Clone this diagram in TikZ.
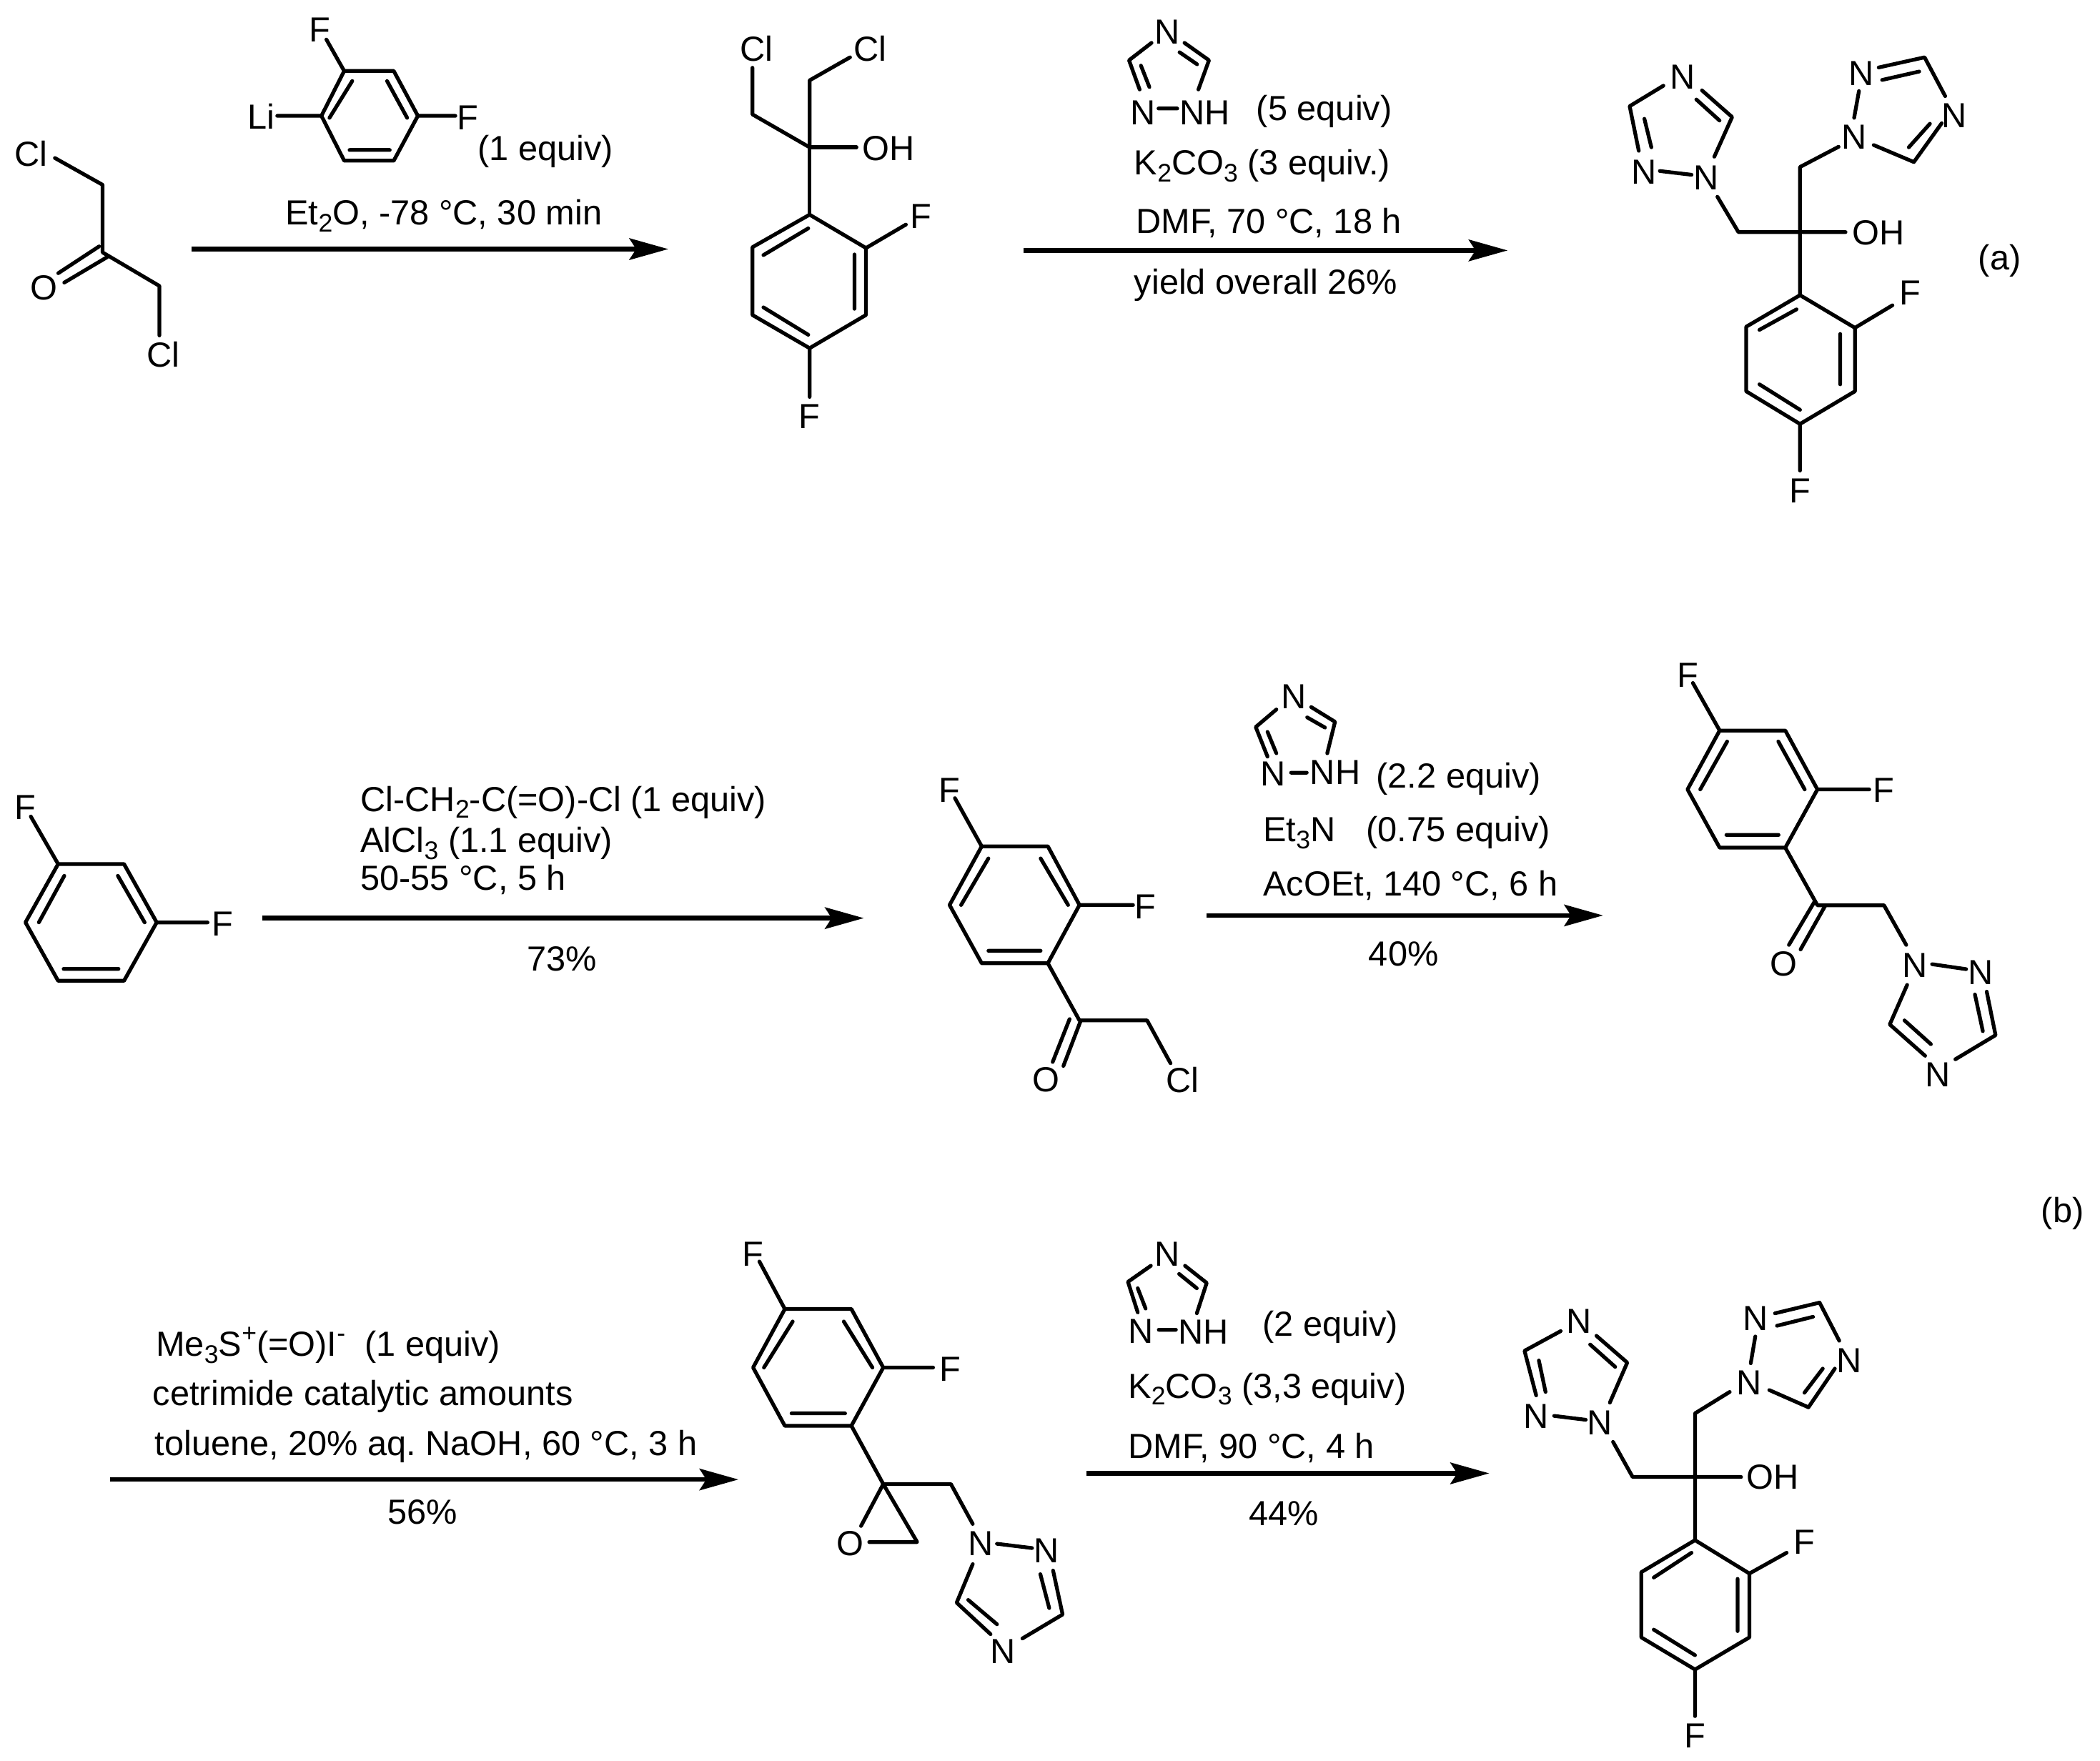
\documentclass[tikz,border=0pt]{standalone}
\usepackage{fontspec}
\setmainfont{Liberation Sans}
\usetikzlibrary{arrows.meta}
\frenchspacing
\newcommand{\sbb}[1]{\raisebox{-0.2em}{\fontsize{19}{19}\selectfont #1}}
\newcommand{\spp}[1]{\raisebox{0.42em}{\fontsize{19}{19}\selectfont #1}}
\tikzset{
  bond/.style={line width=2.8pt,line cap=round,line join=round,black},
  rxn/.style={line width=3.4pt,black,-{Stealth[length=29pt,width=16pt,inset=5pt]}},
  atom/.style={inner sep=0pt,anchor=center,font=\fontsize{26}{30}\selectfont},
  cond/.style={inner sep=0pt,anchor=base west,font=\fontsize{26}{30}\selectfont},
}
\begin{document}
\begin{tikzpicture}[x=1pt,y=-1pt]
\useasboundingbox (0,0) rectangle (1568,1315);
\fill[white] (0,0) rectangle (1568,1315);

% ---------- Row 1: dichloroacetone
\node[atom] (a1) at (23,115) {Cl};
\node[atom] (a2) at (33,215) {O};
\node[atom] (a3) at (122,265) {Cl};
\draw[bond] (41,118)--(76.6,138)--(76.6,188.5)--(119,213.5)--(119,250.5);
\draw[bond] (74,184)--(43.5,204) (80,192)--(48,211);

% aryl lithium
\node[atom] (b1) at (239,22.5) {F};
\node[atom] (b2) at (195,87) {Li};
\node[atom] (b3) at (349,88) {F};
\draw[bond] (257,53)--(294,53)--(312,86.5)--(294,120)--(257,120)--(240,86.5)--cycle;
\draw[bond] (263,60.5)--(246,88) (289,60.5)--(304,88) (261,112)--(291,112);
\draw[bond] (257,53)--(243.7,29.5) (240,86.5)--(207,86.5) (312,86.5)--(340,86.5);
\node[cond] (b4) at (356.7,120) {(1 equiv)};
\node[cond] (b5) at (213,168) {Et\sbb{2}O, -78 °C, 30 min};
\coordinate (r1s) at (143,186); \coordinate (r1e) at (499,186);
\draw[rxn] (r1s)--(r1e);

% dichloro alcohol
\node[atom] (c1) at (564.8,36.3) {Cl};
\node[atom] (c2) at (649.7,36.3) {Cl};
\node[atom] (c3) at (663.5,111) {OH};
\node[atom] (c4) at (687.6,161.4) {F};
\node[atom] (c5) at (604.5,311) {F};
\draw[bond] (561.8,50.6)--(561.8,85.4)--(604.5,110)--(604.5,60)--(634.7,42.8);
\draw[bond] (604.5,110)--(639.5,110) (604.5,110)--(604.5,160.3);
\draw[bond] (604.5,160.3)--(646.6,185.2)--(646.6,235.2)--(604.5,260)--(561.8,235.2)--(561.8,184.6)--cycle;
\draw[bond] (603.5,170.5)--(570,190.5) (638,190)--(638,230.6) (570,229.5)--(603.5,250);
\draw[bond] (646.6,185.2)--(676.4,167.7) (604.5,260)--(604.5,296.4);

% triazole reagent 1
\node[atom] (d1) at (871.8,24) {N};
\node[atom] (d2) at (853.5,84) {N};
\node[atom] (d3) at (899.5,84) {NH};
\draw[bond] (859.8,32)--(843,45)--(850.9,66.8) (884.4,32)--(902.7,45)--(894.8,66.8);
\draw[bond] (880.7,39)--(893.8,48) (851.9,49)--(858.2,65) (865,81)--(879,81);
\node[cond] (d4) at (938,90) {(5 equiv)};
\node[cond] (d5) at (846.7,130.5) {K\sbb{2}CO\sbb{3} (3 equiv.)};
\node[cond] (d6) at (848,174.5) {DMF, 70 °C, 18 h};
\node[cond] (d7) at (846.7,219.6) {yield overall 26\%};
\coordinate (r2s) at (764.5,187); \coordinate (r2e) at (1125.7,187);
\draw[rxn] (r2s)--(r2e);

% product a
\node[atom] (e1) at (1256.6,57.4) {N};
\node[atom] (e2) at (1227.3,128.5) {N};
\node[atom] (e3) at (1274,132.7) {N};
\node[atom] (e4) at (1384.4,102.5) {N};
\node[atom] (e5) at (1390,55) {N};
\node[atom] (e6) at (1459,86.4) {N};
\node[atom] (e7) at (1402.5,174) {OH};
\node[atom] (e8) at (1426,218.6) {F};
\node[atom] (e9) at (1344,366.5) {F};
\node[cond] (e10) at (1477,201.5) {(a)};
\draw[bond] (1242,64)--(1216.8,79.3)--(1223.6,112.6) (1270.8,67.5)--(1293.3,87.4)--(1280,117);
\draw[bond] (1266.6,74.3)--(1283.9,90) (1227.8,88.7)--(1233,110) (1239.3,127.7)--(1263,130.5);
\draw[bond] (1282.3,146.9)--(1298,173.3)--(1378,173.3) (1372.8,109.6)--(1344,124.7)--(1344,220.4);
\draw[bond] (1388,68)--(1384.4,88) (1402.7,50.4)--(1437,42.8)--(1452.4,71.8);
\draw[bond] (1405.3,59.7)--(1433,53.4) (1449.8,92)--(1429,121)--(1399,108.3) (1441,92.4)--(1425.2,110);
\draw[bond] (1344,220.4)--(1385,244.8)--(1385,292.2)--(1344,316.6)--(1303.8,292.2)--(1303.8,244)--cycle;
\draw[bond] (1341.4,231)--(1313.7,246.3) (1374,249.4)--(1374,287) (1313.7,287)--(1344,306);
\draw[bond] (1385,244.8)--(1413,228) (1344,316.6)--(1344,351.4);

% ---------- Row 2: difluorobenzene
\node[atom] (f1) at (19,603) {F};
\node[atom] (f2) at (166,690) {F};
\draw[bond] (43.4,645.2)--(92.6,645.2)--(117,688.8)--(92.6,732.4)--(43.4,732.4)--(19,688.8)--cycle;
\draw[bond] (48,654)--(29,688.8) (88,654)--(108,688.8) (47.5,723.5)--(88.5,723.5);
\draw[bond] (23,609.7)--(43.4,645.2) (117,688.8)--(155,688.8);
\node[cond] (f3) at (269,605.8) {Cl-CH\sbb{2}-C(=O)-Cl (1 equiv)};
\node[cond] (f4) at (269,636.3) {AlCl\sbb{3} (1.1 equiv)};
\node[cond] (f5) at (269,664.9) {50-55 °C, 5 h};
\node[cond,anchor=base] (f6) at (419.6,725.2) {73\%};
\coordinate (r3s) at (195.6,685.6); \coordinate (r3e) at (645,685.6);
\draw[rxn] (r3s)--(r3e);

% chloroketone
\node[atom] (g1) at (709,590) {F};
\node[atom] (g2) at (855,677) {F};
\node[atom] (g3) at (781,806.5) {O};
\node[atom] (g4) at (883,806.5) {Cl};
\draw[bond] (733,632)--(782.4,632)--(806,675.8)--(782.4,719.3)--(733,719.3)--(709,675.8)--cycle;
\draw[bond] (738,641)--(717.6,675.8) (777,641)--(797.5,675.8) (738,710)--(777,710);
\draw[bond] (713,596)--(733,632) (806,675.8)--(846,675.8);
\draw[bond] (782.4,719.3)--(806,762)--(856.5,762)--(874,794);
\draw[bond] (798.6,761)--(786,793) (807,762)--(794,796);

% triazole reagent 2
\node[atom] (h1) at (966,520.4) {N};
\node[atom] (h2) at (950.7,578) {N};
\node[atom] (h3) at (997,577) {NH};
\draw[bond] (953,529.8)--(937.6,542.9)--(946.4,565) (979,528)--(996.8,539)--(991,562.5);
\draw[bond] (976,535.7)--(989.3,543.3) (946.4,546.5)--(953,562.5) (964,577)--(975.7,577);
\node[cond] (h4) at (1027.5,588.6) {(2.2 equiv)};
\node[cond] (h5) at (943,628.3) {Et\sbb{3}N};
\node[cond] (h6) at (1020,628.3) {(0.75 equiv)};
\node[cond] (h7) at (943,669.2) {AcOEt, 140 °C, 6 h};
\node[cond,anchor=base] (h8) at (1048,721.5) {40\%};
\coordinate (r4s) at (901,683.6); \coordinate (r4e) at (1197,683.6);
\draw[rxn] (r4s)--(r4e);

% triazolyl ketone
\node[atom] (i1) at (1260,504) {F};
\node[atom] (i2) at (1406.7,590) {F};
\node[atom] (i3) at (1332,720) {O};
\node[atom] (i4) at (1430,720.8) {N};
\node[atom] (i5) at (1479,726.3) {N};
\node[atom] (i6) at (1447,802.5) {N};
\draw[bond] (1284,545.5)--(1333,545.5)--(1357,589.5)--(1333,633)--(1284,633)--(1260,589.5)--cycle;
\draw[bond] (1289.6,553.7)--(1269.5,589.5) (1327.8,553.7)--(1347.5,589.5) (1289,623.5)--(1328,623.5);
\draw[bond] (1264,510)--(1284,545.5) (1357,589.5)--(1395.7,589.5);
\draw[bond] (1333,633)--(1357,676)--(1406.7,676)--(1423.3,705.6);
\draw[bond] (1355,673)--(1335.7,705.6) (1363,676)--(1344.4,709);
\draw[bond] (1442.6,720)--(1468,723.7) (1424,735.4)--(1411,765)--(1437.4,788.4);
\draw[bond] (1422,762)--(1441.7,779.7) (1460,791)--(1490,773)--(1483.4,740.5) (1480.5,770)--(1474.6,742.6);

\node[cond] (b0) at (1524,913) {(b)};

% ---------- Row 3
\node[cond] (j1) at (116.3,1012.7) {Me\sbb{3}S\spp{+}(=O)I\spp{-}\ \ (1 equiv)};
\node[cond] (j2) at (114,1049.5) {cetrimide catalytic amounts};
\node[cond] (j3) at (115.4,1086.9) {toluene, 20\% aq. NaOH, 60 °C, 3 h};
\node[cond,anchor=base] (j4) at (315.5,1138.1) {56\%};
\coordinate (r5s) at (82,1104.8); \coordinate (r5e) at (551.4,1104.8);
\draw[rxn] (r5s)--(r5e);

% epoxide
\node[atom] (k1) at (562.3,936.6) {F};
\node[atom] (k2) at (709.6,1022.6) {F};
\node[atom] (k3) at (634.8,1152.8) {O};
\node[atom] (k4) at (732.5,1152.8) {N};
\node[atom] (k5) at (781.5,1158) {N};
\node[atom] (k6) at (749,1233.4) {N};
\draw[bond] (586,977.5)--(635.7,977.5)--(659.5,1021.2)--(635.7,1064.7)--(586,1064.7)--(562.3,1021.2)--cycle;
\draw[bond] (591.9,986.8)--(570.4,1021.2) (630,986.8)--(651.4,1021.2) (591,1055.4)--(631,1055.4);
\draw[bond] (567,942)--(586,977.5) (659.5,1021.2)--(696.7,1021.2);
\draw[bond] (635.7,1064.7)--(659.5,1108.2)--(710,1108.2)--(726.3,1138);
\draw[bond] (642.9,1139.5)--(659.5,1108.2)--(684.8,1151.5)--(649,1151.5);
\draw[bond] (744.4,1152.8)--(770.6,1156) (726.3,1168)--(714.3,1196.8)--(739.6,1220.3);
\draw[bond] (722.9,1194.7)--(744.4,1212.9) (763.4,1223.5)--(793.4,1205.6)--(786.3,1172.8) (783.4,1200.8)--(776.8,1175.5);

% triazole reagent 3
\node[atom] (l1) at (871.6,936.6) {N};
\node[atom] (l2) at (852,994) {N};
\node[atom] (l3) at (898.5,994.8) {NH};
\draw[bond] (859.3,945.2)--(842.2,957.2)--(849.5,980) (884.8,945.2)--(901,958)--(893.6,980.7);
\draw[bond] (880.4,951.3)--(893.6,962) (849.5,962)--(855.4,977.2) (865.2,993)--(878,993);
\node[cond] (l4) at (942.6,997.5) {(2 equiv)};
\node[cond] (l5) at (842.2,1043.9) {K\sbb{2}CO\sbb{3} (3,3 equiv)};
\node[cond] (l6) at (842.2,1088.8) {DMF, 90 °C, 4 h};
\node[cond,anchor=base] (l7) at (958.7,1138.9) {44\%};
\coordinate (r6s) at (811.4,1100.2); \coordinate (r6e) at (1112,1100.2);
\draw[rxn] (r6s)--(r6e);

% product b
\node[atom] (m1) at (1179,986.8) {N};
\node[atom] (m2) at (1147,1057.5) {N};
\node[atom] (m3) at (1194.6,1062.6) {N};
\node[atom] (m4) at (1306,1032.7) {N};
\node[atom] (m5) at (1311,984.7) {N};
\node[atom] (m6) at (1380.6,1015.9) {N};
\node[atom] (m7) at (1323.5,1103) {OH};
\node[atom] (m8) at (1347.3,1151.5) {F};
\node[atom] (m9) at (1265.6,1296) {F};
\draw[bond] (1165.3,994)--(1138.3,1008.7)--(1147,1042) (1192,997.5)--(1215,1017.5)--(1202,1047.4);
\draw[bond] (1187.3,1004)--(1206,1020.7) (1149,1015.9)--(1154,1039.4) (1160.4,1057.3)--(1184,1060.2);
\draw[bond] (1204.4,1076.7)--(1219,1102.9)--(1300,1102.9) (1291.5,1039.4)--(1265.6,1055.4)--(1265.6,1150.1);
\draw[bond] (1310.6,998)--(1307.2,1018) (1325.3,980.7)--(1358.6,972.7)--(1373.3,1001.2);
\draw[bond] (1326.8,990)--(1353.7,983.3) (1370,1022)--(1350.3,1050.9)--(1321,1038) (1361,1022)--(1347.3,1040);
\draw[bond] (1265.6,1150.1)--(1306.2,1175)--(1306.2,1222.7)--(1265.6,1246.7)--(1225.5,1222.7)--(1225.5,1174)--cycle;
\draw[bond] (1263,1159.5)--(1234.8,1178) (1297.4,1179)--(1297.4,1218) (1234.8,1216.9)--(1265.6,1236);
\draw[bond] (1306.2,1175)--(1334,1159.5) (1265.6,1246.7)--(1265.6,1281.5);
\end{tikzpicture}
\end{document}
